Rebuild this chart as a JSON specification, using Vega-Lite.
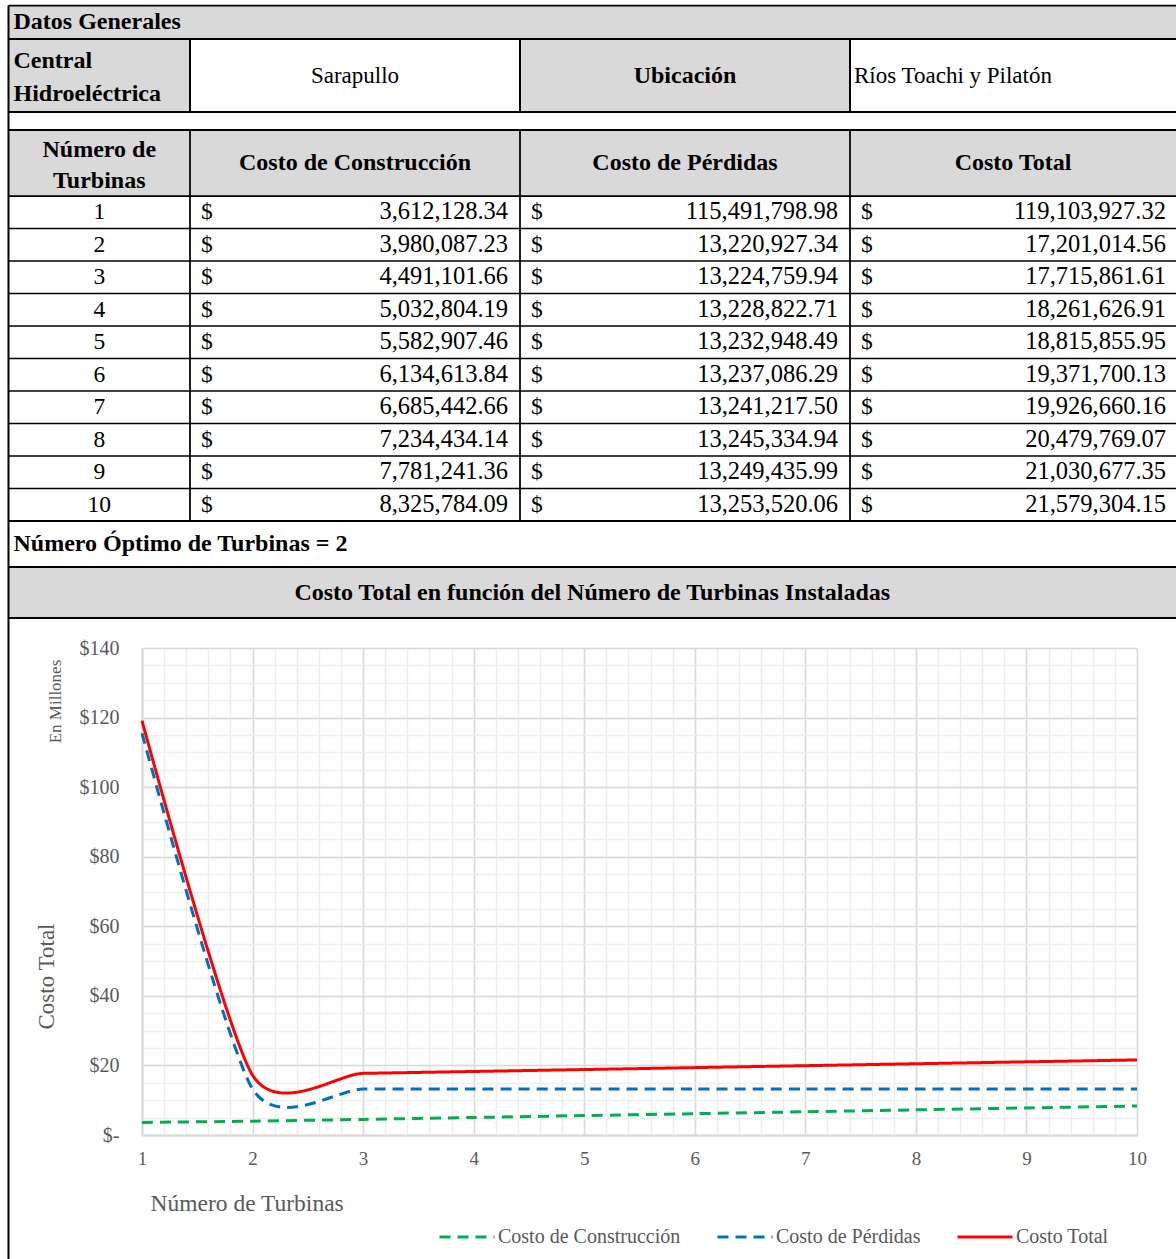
{
"$schema": "https://vega.github.io/schema/vega-lite/v6.json",
"padding": 0,
"background": "white",
"bounds": "flush",
"spacing": 0,
"config": {"view": {"stroke": null}, "font": "Liberation Serif"},
"datasets": {
"costos": [
{"n": 1, "Costo de Construcción": 3612128.34, "Costo de Pérdidas": 115491798.98, "Costo Total": 119103927.32},
{"n": 2, "Costo de Construcción": 3980087.23, "Costo de Pérdidas": 13220927.34, "Costo Total": 17201014.56},
{"n": 3, "Costo de Construcción": 4491101.66, "Costo de Pérdidas": 13224759.94, "Costo Total": 17715861.61},
{"n": 4, "Costo de Construcción": 5032804.19, "Costo de Pérdidas": 13228822.71, "Costo Total": 18261626.91},
{"n": 5, "Costo de Construcción": 5582907.46, "Costo de Pérdidas": 13232948.49, "Costo Total": 18815855.95},
{"n": 6, "Costo de Construcción": 6134613.84, "Costo de Pérdidas": 13237086.29, "Costo Total": 19371700.13},
{"n": 7, "Costo de Construcción": 6685442.66, "Costo de Pérdidas": 13241217.50, "Costo Total": 19926660.16},
{"n": 8, "Costo de Construcción": 7234434.14, "Costo de Pérdidas": 13245334.94, "Costo Total": 20479769.07},
{"n": 9, "Costo de Construcción": 7781241.36, "Costo de Pérdidas": 13249435.99, "Costo Total": 21030677.35},
{"n": 10, "Costo de Construcción": 8325784.09, "Costo de Pérdidas": 13253520.06, "Costo Total": 21579304.15}
],
"bordes": [
{"colIni": 0, "colFin": 4, "filaIni": 0, "filaFin": 0, "grosor": "medio"},
{"colIni": 0, "colFin": 4, "filaIni": 1, "filaFin": 1, "grosor": "grueso"},
{"colIni": 0, "colFin": 4, "filaIni": 2, "filaFin": 2, "grosor": "grueso"},
{"colIni": 0, "colFin": 4, "filaIni": 3, "filaFin": 3, "grosor": "grueso"},
{"colIni": 0, "colFin": 4, "filaIni": 4, "filaFin": 4, "grosor": "medio"},
{"colIni": 0, "colFin": 4, "filaIni": 5, "filaFin": 5, "grosor": "fino"},
{"colIni": 0, "colFin": 4, "filaIni": 6, "filaFin": 6, "grosor": "fino"},
{"colIni": 0, "colFin": 4, "filaIni": 7, "filaFin": 7, "grosor": "fino"},
{"colIni": 0, "colFin": 4, "filaIni": 8, "filaFin": 8, "grosor": "fino"},
{"colIni": 0, "colFin": 4, "filaIni": 9, "filaFin": 9, "grosor": "fino"},
{"colIni": 0, "colFin": 4, "filaIni": 10, "filaFin": 10, "grosor": "fino"},
{"colIni": 0, "colFin": 4, "filaIni": 11, "filaFin": 11, "grosor": "fino"},
{"colIni": 0, "colFin": 4, "filaIni": 12, "filaFin": 12, "grosor": "fino"},
{"colIni": 0, "colFin": 4, "filaIni": 13, "filaFin": 13, "grosor": "fino"},
{"colIni": 0, "colFin": 4, "filaIni": 14, "filaFin": 14, "grosor": "grueso"},
{"colIni": 0, "colFin": 4, "filaIni": 15, "filaFin": 15, "grosor": "grueso"},
{"colIni": 0, "colFin": 4, "filaIni": 16, "filaFin": 16, "grosor": "grueso"},
{"colIni": 0, "colFin": 0, "filaIni": 0, "filaFin": 17, "grosor": "grueso"},
{"colIni": 1, "colFin": 1, "filaIni": 1, "filaFin": 2, "grosor": "grueso"},
{"colIni": 2, "colFin": 2, "filaIni": 1, "filaFin": 2, "grosor": "grueso"},
{"colIni": 3, "colFin": 3, "filaIni": 1, "filaFin": 2, "grosor": "grueso"},
{"colIni": 1, "colFin": 1, "filaIni": 3, "filaFin": 14, "grosor": "medio"},
{"colIni": 2, "colFin": 2, "filaIni": 3, "filaFin": 14, "grosor": "medio"},
{"colIni": 3, "colFin": 3, "filaIni": 3, "filaFin": 14, "grosor": "medio"}
]
},
"vconcat": [
{
"width": 1176,
"height": 648,
"resolve": {"scale": {"x": "independent", "y": "independent"}},
"layer": [
{
"data": {"values": [
{"colIni": 0, "colFin": 4, "filaIni": 0, "filaFin": 1},
{"colIni": 0, "colFin": 1, "filaIni": 1, "filaFin": 2},
{"colIni": 2, "colFin": 3, "filaIni": 1, "filaFin": 2},
{"colIni": 0, "colFin": 4, "filaIni": 3, "filaFin": 4},
{"colIni": 0, "colFin": 4, "filaIni": 15, "filaFin": 16}
]},
"mark": {"type": "rect", "color": "#d9d9d9"},
"encoding": {
"x": {"field": "colIni", "type": "quantitative", "scale": {"domain": [0,1,2,3,4], "range": [8.5,190,520,850,1176], "nice": false, "zero": false}, "axis": null},
"x2": {"field": "colFin"},
"y": {"field": "filaIni", "type": "quantitative", "scale": {"domain": [0,1,2,3,4,5,6,7,8,9,10,11,12,13,14,15,16,17], "range": [5.5,39,112,130,196,228.5,261,293.5,326,358.5,391,423.5,456,488.5,521,567,618,1259], "nice": false, "zero": false}, "axis": null},
"y2": {"field": "filaFin"}
}
},
{
"data": {"name": "bordes"},
"mark": {"type": "rule", "color": "black"},
"encoding": {
"x": {"field": "colIni", "type": "quantitative", "scale": {"domain": [0,1,2,3,4], "range": [8.5,190,520,850,1176], "nice": false, "zero": false}, "axis": null},
"x2": {"field": "colFin"},
"y": {"field": "filaIni", "type": "quantitative", "scale": {"domain": [0,1,2,3,4,5,6,7,8,9,10,11,12,13,14,15,16,17], "range": [5.5,39,112,130,196,228.5,261,293.5,326,358.5,391,423.5,456,488.5,521,567,618,1259], "nice": false, "zero": false}, "axis": null},
"y2": {"field": "filaFin"},
"strokeWidth": {"field": "grosor", "type": "ordinal", "scale": {"domain": ["fino","medio","grueso"], "range": [1.5,2,3.5]}, "legend": null}
}
},
{
"data": {"values": [
{"texto": "Datos Generales", "col": 0, "fila": 0.5},
{"texto": "Número Óptimo de Turbinas = 2", "col": 0, "fila": 14.5}
]},
"mark": {"type": "text", "font": "Liberation Serif", "fontSize": 24, "fontWeight": "bold", "align": "left", "baseline": "middle", "dx": 5, "color": "black"},
"encoding": {
"x": {"field": "col", "type": "quantitative", "scale": {"domain": [0,1,2,3,4], "range": [8.5,190,520,850,1176], "nice": false, "zero": false}, "axis": null},
"y": {"field": "fila", "type": "quantitative", "scale": {"domain": [0,1,2,3,4,5,6,7,8,9,10,11,12,13,14,15,16,17], "range": [5.5,39,112,130,196,228.5,261,293.5,326,358.5,391,423.5,456,488.5,521,567,618,1259], "nice": false, "zero": false}, "axis": null},
"text": {"field": "texto"}
}
},
{
"data": {"values": [
{"texto": ["Central", "Hidroeléctrica"], "col": 0, "fila": 1.5}
]},
"mark": {"type": "text", "font": "Liberation Serif", "fontSize": 24, "fontWeight": "bold", "align": "left", "baseline": "middle", "dx": 5, "dy": -15, "lineHeight": 33, "color": "black"},
"encoding": {
"x": {"field": "col", "type": "quantitative", "scale": {"domain": [0,1,2,3,4], "range": [8.5,190,520,850,1176], "nice": false, "zero": false}, "axis": null},
"y": {"field": "fila", "type": "quantitative", "scale": {"domain": [0,1,2,3,4,5,6,7,8,9,10,11,12,13,14,15,16,17], "range": [5.5,39,112,130,196,228.5,261,293.5,326,358.5,391,423.5,456,488.5,521,567,618,1259], "nice": false, "zero": false}, "axis": null},
"text": {"field": "texto"}
}
},
{
"data": {"values": [
{"texto": "Ríos Toachi y Pilatón", "col": 3, "fila": 1.5}
]},
"mark": {"type": "text", "font": "Liberation Serif", "fontSize": 23, "align": "left", "baseline": "middle", "dx": 4, "color": "black"},
"encoding": {
"x": {"field": "col", "type": "quantitative", "scale": {"domain": [0,1,2,3,4], "range": [8.5,190,520,850,1176], "nice": false, "zero": false}, "axis": null},
"y": {"field": "fila", "type": "quantitative", "scale": {"domain": [0,1,2,3,4,5,6,7,8,9,10,11,12,13,14,15,16,17], "range": [5.5,39,112,130,196,228.5,261,293.5,326,358.5,391,423.5,456,488.5,521,567,618,1259], "nice": false, "zero": false}, "axis": null},
"text": {"field": "texto"}
}
},
{
"data": {"values": [
{"texto": "Ubicación", "col": 2.5, "fila": 1.5},
{"texto": "Costo de Construcción", "col": 1.5, "fila": 3.5},
{"texto": "Costo de Pérdidas", "col": 2.5, "fila": 3.5},
{"texto": "Costo Total", "col": 3.5, "fila": 3.5}
]},
"mark": {"type": "text", "font": "Liberation Serif", "fontSize": 24, "fontWeight": "bold", "align": "center", "baseline": "middle", "color": "black"},
"encoding": {
"x": {"field": "col", "type": "quantitative", "scale": {"domain": [0,1,2,3,4], "range": [8.5,190,520,850,1176], "nice": false, "zero": false}, "axis": null},
"y": {"field": "fila", "type": "quantitative", "scale": {"domain": [0,1,2,3,4,5,6,7,8,9,10,11,12,13,14,15,16,17], "range": [5.5,39,112,130,196,228.5,261,293.5,326,358.5,391,423.5,456,488.5,521,567,618,1259], "nice": false, "zero": false}, "axis": null},
"text": {"field": "texto"}
}
},
{
"data": {"values": [
{"texto": ["Número de", "Turbinas"], "col": 0.5, "fila": 3.5}
]},
"mark": {"type": "text", "font": "Liberation Serif", "fontSize": 24, "fontWeight": "bold", "align": "center", "baseline": "middle", "dy": -13, "lineHeight": 31, "color": "black"},
"encoding": {
"x": {"field": "col", "type": "quantitative", "scale": {"domain": [0,1,2,3,4], "range": [8.5,190,520,850,1176], "nice": false, "zero": false}, "axis": null},
"y": {"field": "fila", "type": "quantitative", "scale": {"domain": [0,1,2,3,4,5,6,7,8,9,10,11,12,13,14,15,16,17], "range": [5.5,39,112,130,196,228.5,261,293.5,326,358.5,391,423.5,456,488.5,521,567,618,1259], "nice": false, "zero": false}, "axis": null},
"text": {"field": "texto"}
}
},
{
"data": {"values": [
{"texto": "Sarapullo", "col": 1.5, "fila": 1.5}
]},
"mark": {"type": "text", "font": "Liberation Serif", "fontSize": 23, "align": "center", "baseline": "middle", "color": "black"},
"encoding": {
"x": {"field": "col", "type": "quantitative", "scale": {"domain": [0,1,2,3,4], "range": [8.5,190,520,850,1176], "nice": false, "zero": false}, "axis": null},
"y": {"field": "fila", "type": "quantitative", "scale": {"domain": [0,1,2,3,4,5,6,7,8,9,10,11,12,13,14,15,16,17], "range": [5.5,39,112,130,196,228.5,261,293.5,326,358.5,391,423.5,456,488.5,521,567,618,1259], "nice": false, "zero": false}, "axis": null},
"text": {"field": "texto"}
}
},
{
"data": {"values": [
{"texto": "Costo Total en función del Número de Turbinas Instaladas", "pos": 0.5, "fila": 15.5}
]},
"mark": {"type": "text", "font": "Liberation Serif", "fontSize": 24, "fontWeight": "bold", "align": "center", "baseline": "middle", "color": "black"},
"encoding": {
"x": {"field": "pos", "type": "quantitative", "scale": {"domain": [0,1], "range": [8.5,1176], "nice": false, "zero": false}, "axis": null},
"y": {"field": "fila", "type": "quantitative", "scale": {"domain": [0,1,2,3,4,5,6,7,8,9,10,11,12,13,14,15,16,17], "range": [5.5,39,112,130,196,228.5,261,293.5,326,358.5,391,423.5,456,488.5,521,567,618,1259], "nice": false, "zero": false}, "axis": null},
"text": {"field": "texto"}
}
},
{
"data": {"name": "costos"},
"mark": {"type": "text", "font": "Liberation Serif", "fontSize": 23.5, "align": "center", "baseline": "middle", "color": "black"},
"encoding": {
"x": {"datum": 0.5, "type": "quantitative", "scale": {"domain": [0,1,2,3,4], "range": [8.5,190,520,850,1176], "nice": false, "zero": false}, "axis": null},
"y": {"field": "n", "type": "quantitative", "scale": {"domain": [0.5,10.5], "range": [196,521], "nice": false, "zero": false}, "axis": null},
"text": {"field": "n", "type": "quantitative"}
}
},
{
"data": {"name": "costos"},
"mark": {"type": "text", "font": "Liberation Serif", "fontSize": 23.5, "align": "left", "baseline": "middle", "dx": 11, "color": "black"},
"encoding": {
"x": {"datum": 1, "type": "quantitative", "scale": {"domain": [0,1,2,3,4], "range": [8.5,190,520,850,1176], "nice": false, "zero": false}, "axis": null},
"y": {"field": "n", "type": "quantitative", "scale": {"domain": [0.5,10.5], "range": [196,521], "nice": false, "zero": false}, "axis": null},
"text": {"value": "$"}
}
},
{
"data": {"name": "costos"},
"mark": {"type": "text", "font": "Liberation Serif", "fontSize": 23.5, "align": "left", "baseline": "middle", "dx": 11, "color": "black"},
"encoding": {
"x": {"datum": 2, "type": "quantitative", "scale": {"domain": [0,1,2,3,4], "range": [8.5,190,520,850,1176], "nice": false, "zero": false}, "axis": null},
"y": {"field": "n", "type": "quantitative", "scale": {"domain": [0.5,10.5], "range": [196,521], "nice": false, "zero": false}, "axis": null},
"text": {"value": "$"}
}
},
{
"data": {"name": "costos"},
"mark": {"type": "text", "font": "Liberation Serif", "fontSize": 23.5, "align": "left", "baseline": "middle", "dx": 11, "color": "black"},
"encoding": {
"x": {"datum": 3, "type": "quantitative", "scale": {"domain": [0,1,2,3,4], "range": [8.5,190,520,850,1176], "nice": false, "zero": false}, "axis": null},
"y": {"field": "n", "type": "quantitative", "scale": {"domain": [0.5,10.5], "range": [196,521], "nice": false, "zero": false}, "axis": null},
"text": {"value": "$"}
}
},
{
"data": {"name": "costos"},
"mark": {"type": "text", "font": "Liberation Serif", "fontSize": 24.5, "align": "right", "baseline": "middle", "dx": -12, "color": "black"},
"encoding": {
"x": {"datum": 2, "type": "quantitative", "scale": {"domain": [0,1,2,3,4], "range": [8.5,190,520,850,1176], "nice": false, "zero": false}, "axis": null},
"y": {"field": "n", "type": "quantitative", "scale": {"domain": [0.5,10.5], "range": [196,521], "nice": false, "zero": false}, "axis": null},
"text": {"field": "Costo de Construcción", "type": "quantitative", "format": ",.2f"}
}
},
{
"data": {"name": "costos"},
"mark": {"type": "text", "font": "Liberation Serif", "fontSize": 24.5, "align": "right", "baseline": "middle", "dx": -12, "color": "black"},
"encoding": {
"x": {"datum": 3, "type": "quantitative", "scale": {"domain": [0,1,2,3,4], "range": [8.5,190,520,850,1176], "nice": false, "zero": false}, "axis": null},
"y": {"field": "n", "type": "quantitative", "scale": {"domain": [0.5,10.5], "range": [196,521], "nice": false, "zero": false}, "axis": null},
"text": {"field": "Costo de Pérdidas", "type": "quantitative", "format": ",.2f"}
}
},
{
"data": {"name": "costos"},
"mark": {"type": "text", "font": "Liberation Serif", "fontSize": 24.5, "align": "right", "baseline": "middle", "dx": -10, "color": "black"},
"encoding": {
"x": {"datum": 4, "type": "quantitative", "scale": {"domain": [0,1,2,3,4], "range": [8.5,190,520,850,1176], "nice": false, "zero": false}, "axis": null},
"y": {"field": "n", "type": "quantitative", "scale": {"domain": [0.5,10.5], "range": [196,521], "nice": false, "zero": false}, "axis": null},
"text": {"field": "Costo Total", "type": "quantitative", "format": ",.2f"}
}
}
]
},
{
"hconcat": [
{
"width": 142,
"height": 1,
"data": {"values": [{}]},
"mark": {"type": "text"},
"encoding": {"text": {"value": ""}}
},
{
"width": 995,
"height": 487,
"data": {"name": "costos"},
"resolve": {"axis": {"x": "independent", "y": "independent"}},
"layer": [
{
"mark": {"type": "point", "opacity": 0},
"encoding": {
"x": {"field": "n", "type": "quantitative", "scale": {"domain": [1,10], "nice": false, "zero": false},
"axis": {"orient": "bottom", "values": [1,1.2,1.4,1.6,1.8,2,2.2,2.4,2.6,2.8,3,3.2,3.4,3.6,3.8,4,4.2,4.4,4.6,4.8,5,5.2,5.4,5.6,5.8,6,6.2,6.4,6.6,6.8,7,7.2,7.4,7.6,7.8,8,8.2,8.4,8.6,8.8,9,9.2,9.4,9.6,9.8,10], "grid": true, "gridColor": "#eeeeee", "gridWidth": 1.5, "labels": false, "ticks": false, "domain": false, "title": null}},
"y": {"field": "Costo Total", "type": "quantitative", "scale": {"domain": [0,140000000], "nice": false, "zero": false},
"axis": {"orient": "left", "values": [0,5000000,10000000,15000000,20000000,25000000,30000000,35000000,40000000,45000000,50000000,55000000,60000000,65000000,70000000,75000000,80000000,85000000,90000000,95000000,100000000,105000000,110000000,115000000,120000000,125000000,130000000,135000000,140000000], "grid": true, "gridColor": "#eeeeee", "gridWidth": 1.5, "labels": false, "ticks": false, "domain": false, "title": "En Millones", "titleFont": "Liberation Serif", "titleFontSize": 17, "titleFontWeight": "normal", "titleColor": "#595959", "titleX": -78, "titleY": 53}}
}
},
{
"transform": [{"fold": ["Costo de Construcción", "Costo de Pérdidas", "Costo Total"], "as": ["serie", "valor"]}],
"mark": {"type": "line", "interpolate": "cardinal", "tension": 0.3, "strokeWidth": 3},
"encoding": {
"x": {"field": "n", "type": "quantitative",
"axis": {"orient": "bottom", "values": [1,2,3,4,5,6,7,8,9,10], "grid": true, "gridColor": "#d9d9d9", "gridWidth": 1.5, "ticks": false, "tickSize": 0, "domain": true, "domainColor": "#d9d9d9", "domainWidth": 2, "labelFont": "Liberation Serif", "labelFontSize": 19, "labelColor": "#595959", "labelPadding": 14, "labelFlush": false, "title": "Número de Turbinas", "titleFont": "Liberation Serif", "titleFontSize": 23.5, "titleFontWeight": "normal", "titleColor": "#595959", "titleX": 8, "titleY": 75, "titleAlign": "left", "titleBaseline": "alphabetic"}},
"y": {"field": "valor", "type": "quantitative",
"axis": {"orient": "left", "values": [0,20000000,40000000,60000000,80000000,100000000,120000000,140000000], "labelExpr": "datum.value == 0 ? '$-' : '$' + format(datum.value / 1000000, 'd')", "grid": true, "gridColor": "#d9d9d9", "gridWidth": 1.5, "ticks": false, "tickSize": 0, "domain": true, "domainColor": "#d9d9d9", "domainWidth": 2, "labelFont": "Liberation Serif", "labelFontSize": 20, "labelColor": "#595959", "labelPadding": 23, "labelFlush": false, "title": "Costo Total", "titleFont": "Liberation Serif", "titleFontSize": 23, "titleFontWeight": "normal", "titleColor": "#595959", "titleX": -84, "titleY": 328}},
"color": {"field": "serie", "type": "nominal", "scale": {"domain": ["Costo de Construcción", "Costo de Pérdidas", "Costo Total"], "range": ["#00b050", "#0070c0", "#ff0000"]},
"legend": {"orient": "none", "legendX": 438, "legendY": 1208, "direction": "horizontal", "title": null, "symbolType": "stroke", "symbolSize": 3025, "symbolStrokeWidth": 3, "labelFont": "Liberation Serif", "labelFontSize": 20, "labelColor": "#595959", "labelLimit": 400, "columnPadding": 30, "labelOffset": 2}},
"strokeDash": {"field": "serie", "type": "nominal", "scale": {"domain": ["Costo de Construcción", "Costo de Pérdidas", "Costo Total"], "range": [[11,7],[11,7],[1,0]]}}
}
}
]
}
],
"spacing": 0,
"bounds": "flush"
}
]
}
